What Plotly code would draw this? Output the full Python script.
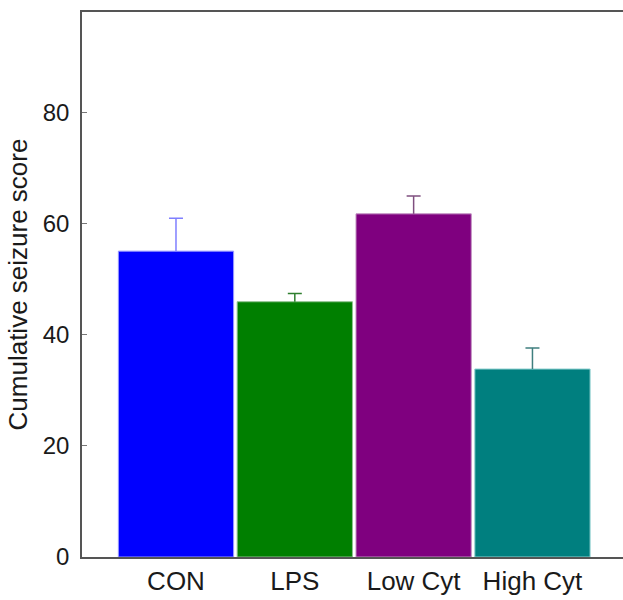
import plotly.graph_objects as go

# Group labels and cumulative seizure scores (mean, upper SEM)
groups = ["CON", "LPS", "Low Cyt", "High Cyt"]
means = [55.0, 45.9, 61.7, 33.8]
errors = [5.9, 1.5, 3.2, 3.8]
bar_colors = ["#0000ff", "#007f00", "#7f007f", "#007f7f"]
edge_colors = ["#9a9aff", "#8fc08f", "#c08fc0", "#8fd0d0"]
err_colors = ["#7f7fff", "#2f7f2f", "#7f4f7f", "#3f7f7f"]
y_ticks = [0, 20, 40, 60, 80]

fig = go.Figure()
for i, g in enumerate(groups):
    # bar with an upward-only error stem (no cap at the bar top)
    fig.add_trace(go.Bar(
        x=[i],
        y=[means[i]],
        width=0.97,
        name=g,
        marker=dict(color=bar_colors[i], line=dict(color=edge_colors[i], width=1)),
        error_y=dict(
            type="data",
            array=[errors[i]],
            arrayminus=[0],
            symmetric=False,
            color=err_colors[i],
            thickness=1.5,
            width=0,
        ),
        showlegend=False,
        hoverinfo="skip",
    ))
    # cap at the end of the error stem
    fig.add_trace(go.Scatter(
        x=[i],
        y=[means[i] + errors[i]],
        mode="markers",
        marker=dict(size=1, color="rgba(0,0,0,0)"),
        error_y=dict(
            type="data",
            array=[0],
            arrayminus=[0],
            symmetric=False,
            color=err_colors[i],
            thickness=1.5,
            width=7,
        ),
        showlegend=False,
        hoverinfo="skip",
    ))

font_family = "Liberation Sans, Arial, sans-serif"
text_color = "#1a1a1a"

fig.update_layout(
    width=623,
    height=600,
    margin=dict(l=82, r=0, t=12, b=43),
    paper_bgcolor="white",
    plot_bgcolor="white",
    barmode="overlay",
    font=dict(family=font_family, size=24, color=text_color),
    xaxis=dict(
        range=[-0.791, 3.762],
        tickmode="array",
        tickvals=list(range(len(groups))),
        ticktext=groups,
        ticks="",
        showgrid=False,
        zeroline=False,
        showline=True,
        mirror=True,
        linecolor="#555555",
        linewidth=1.5,
        tickfont=dict(family=font_family, size=26, color=text_color),
    ),
    yaxis=dict(
        range=[0, 98],
        tickmode="array",
        tickvals=y_ticks,
        ticks="inside",
        ticklen=5,
        tickcolor="#777777",
        tickwidth=1,
        ticklabelstandoff=6,
        showgrid=False,
        zeroline=False,
        showline=True,
        linecolor="#555555",
        linewidth=1.5,
        tickfont=dict(family=font_family, size=24, color=text_color),
        title=dict(
            text="Cumulative seizure score",
            font=dict(family=font_family, size=26, color=text_color),
            standoff=8,
        ),
    ),
)

fig.write_html("out.html")
